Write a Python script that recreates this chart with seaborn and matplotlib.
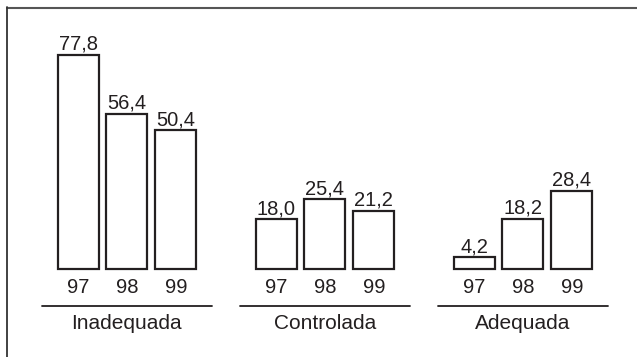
import matplotlib
matplotlib.use("Agg")
import matplotlib.pyplot as plt
import seaborn as sns
import pandas as pd
from matplotlib.lines import Line2D

# data
grupos = ["Inadequada", "Controlada", "Adequada"]
anos = ["97", "98", "99"]
inadequada = [77.8, 56.4, 50.4]
controlada = [18.0, 25.4, 21.2]
adequada = [4.2, 18.2, 28.4]

df = pd.DataFrame({
    "grupo": [g for g in grupos for _ in anos],
    "ano": anos * 3,
    "valor": inadequada + controlada + adequada,
})

sns.set_style("white")
plt.rcParams["font.family"] = ["Liberation Sans", "DejaVu Sans"]
ink = "#231f20"

fig = plt.figure(figsize=(6.37, 3.57), dpi=100)
ax = fig.add_axes([0, 0, 1, 1])

sns.barplot(
    data=df, x="grupo", y="valor", hue="ano", order=grupos, hue_order=anos,
    palette=["white"] * 3, edgecolor=ink, linewidth=1.6,
    width=0.74, gap=0.16, legend=False, ax=ax,
)

ax.set_xlim(-0.641, 2.576)
ax.set_ylim(-32, 97.8)
ax.axis("off")

# value labels and year labels
for cont in ax.containers:
    for bar in cont:
        cx = bar.get_x() + bar.get_width() / 2
        h = bar.get_height()
        ax.text(cx, h + 0.4, f"{h:.1f}".replace(".", ","), ha="center",
                va="bottom", fontsize=14.5, color=ink)
for cont, ano in zip(ax.containers, anos):
    for bar in cont:
        cx = bar.get_x() + bar.get_width() / 2
        ax.text(cx, -6.6, ano, ha="center", va="center", fontsize=14.5, color=ink)

# group lines and labels
for i, g in enumerate(grupos):
    ax.plot([i - 0.43, i + 0.43], [-13.6, -13.6], color=ink, lw=1.3)
    ax.text(i, -19.8, g, ha="center", va="center", fontsize=15, color=ink)

# frame: top and left only
fig.add_artist(Line2D([7 / 637, 1], [1 - 7.5 / 357] * 2, color="#555555", lw=1.5))
fig.add_artist(Line2D([7 / 637] * 2, [0, 1 - 7 / 357], color="#333333", lw=1.3))

fig.savefig("out.png", dpi=100)
